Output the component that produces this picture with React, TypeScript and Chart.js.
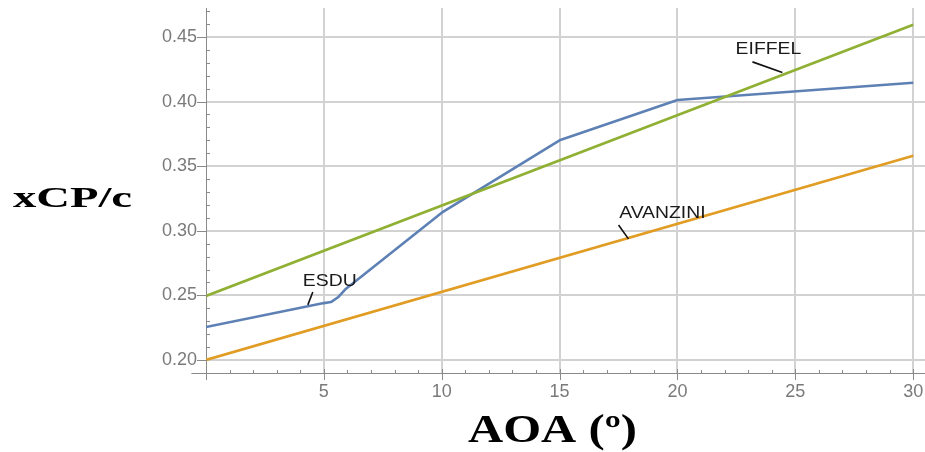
import React, { useEffect, useRef } from 'react';
import { Chart, registerables } from 'chart.js';

Chart.register(...registerables);

// ---- data ----
const esduAoa = [0, 5, 5.3, 5.6, 5.9, 10, 15, 20, 30];
const esduCp = [0.2255, 0.244, 0.2448, 0.2485, 0.2545, 0.314, 0.37, 0.4012, 0.4145];
const eiffelAoa = [0, 30];
const eiffelCp = [0.2495, 0.4595];
const avanziniAoa = [0, 30];
const avanziniCp = [0.2, 0.358];

const xTickValues = [5, 10, 15, 20, 25, 30];
const yTickValues = [0.2, 0.25, 0.3, 0.35, 0.4, 0.45];

const xTitle = 'AOA (º)';
const yTitle = 'xCP/c';

// annotation labels (data coordinates)
const noteTexts = ['ESDU', 'EIFFEL', 'AVANZINI'];
const noteX = [5.25, 23.86, 19.36];
const noteY = [0.2605, 0.4405, 0.3135];
const leaderX1 = [4.53, 23.18, 17.5];
const leaderY1 = [0.2526, 0.4307, 0.3045];
const leaderX2 = [4.32, 24.45, 17.92];
const leaderY2 = [0.2426, 0.4225, 0.2937];

const BLUE = '#5E81B5';
const ORANGE = '#E19C24';
const GREEN = '#8FB032';

const toPts = (xs: number[], ys: number[]) => xs.map((x, i) => ({ x, y: ys[i] }));

const decorPlugin = {
  id: 'decor',
  afterDraw(chart: any) {
    const ctx = chart.ctx as CanvasRenderingContext2D;
    const xs = chart.scales.x;
    const ys = chart.scales.y;
    const area = chart.chartArea;
    const axisY = area.bottom;
    const axisX = area.left;
    ctx.save();
    ctx.strokeStyle = '#8a8a8a';
    ctx.lineWidth = 1;
    // x-axis extension to the left of the origin
    ctx.beginPath();
    ctx.moveTo(xs.getPixelForValue(-0.62), axisY + 0.5);
    ctx.lineTo(axisX, axisY + 0.5);
    ctx.stroke();
    // x ticks
    for (let v = 0; v <= 30; v += 1) {
      const px = Math.round(xs.getPixelForValue(v)) + 0.5;
      ctx.beginPath();
      if (v % 5 === 0) {
        ctx.moveTo(px, axisY - 4);
        ctx.lineTo(px, axisY + 7);
      } else {
        ctx.moveTo(px, axisY);
        ctx.lineTo(px, axisY - 3);
      }
      ctx.stroke();
    }
    // y ticks
    for (let i = 19; i <= 47; i += 1) {
      const v = i / 100;
      const py = Math.round(ys.getPixelForValue(v)) + 0.5;
      ctx.beginPath();
      if (i % 5 === 0) {
        ctx.moveTo(axisX - 9, py);
        ctx.lineTo(axisX + 1, py);
      } else {
        ctx.moveTo(axisX, py);
        ctx.lineTo(axisX + 4, py);
      }
      ctx.stroke();
    }
    // annotations
    ctx.strokeStyle = '#111';
    ctx.lineWidth = 1.6;
    ctx.fillStyle = '#1a1a1a';
    ctx.font = '17px "Liberation Sans"';
    ctx.textAlign = 'center';
    ctx.textBaseline = 'middle';
    noteTexts.forEach((t, i) => {
      ctx.beginPath();
      ctx.moveTo(xs.getPixelForValue(leaderX1[i]), ys.getPixelForValue(leaderY1[i]));
      ctx.lineTo(xs.getPixelForValue(leaderX2[i]), ys.getPixelForValue(leaderY2[i]));
      ctx.stroke();
      ctx.save();
      ctx.translate(xs.getPixelForValue(noteX[i]), ys.getPixelForValue(noteY[i]));
      ctx.scale(1.14, 1);
      ctx.fillText(t, 0, 0);
      ctx.restore();
    });
    // axis titles
    ctx.fillStyle = '#000';
    ctx.textBaseline = 'alphabetic';
    ctx.textAlign = 'left';
    ctx.font = 'bold 30px "Liberation Serif"';
    let w = ctx.measureText(yTitle).width;
    ctx.save();
    ctx.translate(13, 207);
    ctx.scale(119 / w, 1);
    ctx.fillText(yTitle, 0, 0);
    ctx.restore();
    ctx.font = 'bold 40px "Liberation Serif"';
    w = ctx.measureText(xTitle).width;
    ctx.save();
    ctx.translate(468, 442);
    ctx.scale(169 / w, 1);
    ctx.fillText(xTitle, 0, 0);
    ctx.restore();
    ctx.restore();
  },
};

export default function App() {
  const ref = useRef<HTMLCanvasElement | null>(null);
  useEffect(() => {
    if (!ref.current) return;
    const tickFont = { family: '"Liberation Sans"', size: 18 };
    const chart = new Chart(ref.current, {
      type: 'line',
      data: {
        datasets: [
          { label: 'EIFFEL', data: toPts(eiffelAoa, eiffelCp), borderColor: GREEN, borderWidth: 2.6, pointRadius: 0, tension: 0 },
          { label: 'AVANZINI', data: toPts(avanziniAoa, avanziniCp), borderColor: ORANGE, borderWidth: 2.6, pointRadius: 0, tension: 0 },
          { label: 'ESDU', data: toPts(esduAoa, esduCp), borderColor: BLUE, borderWidth: 2.6, pointRadius: 0, tension: 0, borderJoinStyle: 'round' },
        ],
      },
      options: {
        animation: false,
        responsive: false,
        layout: { padding: { top: 8, left: 0, right: 0, bottom: 0 } },
        plugins: { legend: { display: false }, tooltip: { enabled: false } },
        scales: {
          x: {
            type: 'linear',
            min: 0,
            max: 30.5,
            position: 'bottom',
            afterBuildTicks: (s: any) => { s.ticks = xTickValues.map((v) => ({ value: v })); },
            afterFit: (s: any) => { s.height = 79; s.paddingLeft = 0; s.paddingRight = 0; },
            grid: { color: '#d2d2d2', lineWidth: 2, drawTicks: false },
            border: { display: true, color: '#8a8a8a', width: 1 },
            ticks: { font: tickFont, color: '#7a7a7a', padding: 8, maxRotation: 0, autoSkip: false, callback: (v: any) => String(v) },
          },
          y: {
            type: 'linear',
            min: 0.1899,
            max: 0.4724,
            position: 'left',
            afterBuildTicks: (s: any) => { s.ticks = yTickValues.map((v) => ({ value: v })); },
            afterFit: (s: any) => { s.width = 206; s.paddingTop = 0; s.paddingBottom = 0; },
            grid: { color: '#d2d2d2', lineWidth: 2, drawTicks: false },
            border: { display: true, color: '#8a8a8a', width: 1 },
            ticks: { font: tickFont, color: '#7a7a7a', padding: 9, autoSkip: false, callback: (v: any) => Number(v).toFixed(2) },
          },
        },
      },
      plugins: [decorPlugin],
    } as any);
    return () => chart.destroy();
  }, []);
  return (
    <div style={{ position: 'absolute', left: 0, top: 0, width: 925, height: 452, background: '#fff' }}>
      <canvas ref={ref} width={925} height={452} style={{ display: 'block' }} />
    </div>
  );
}
